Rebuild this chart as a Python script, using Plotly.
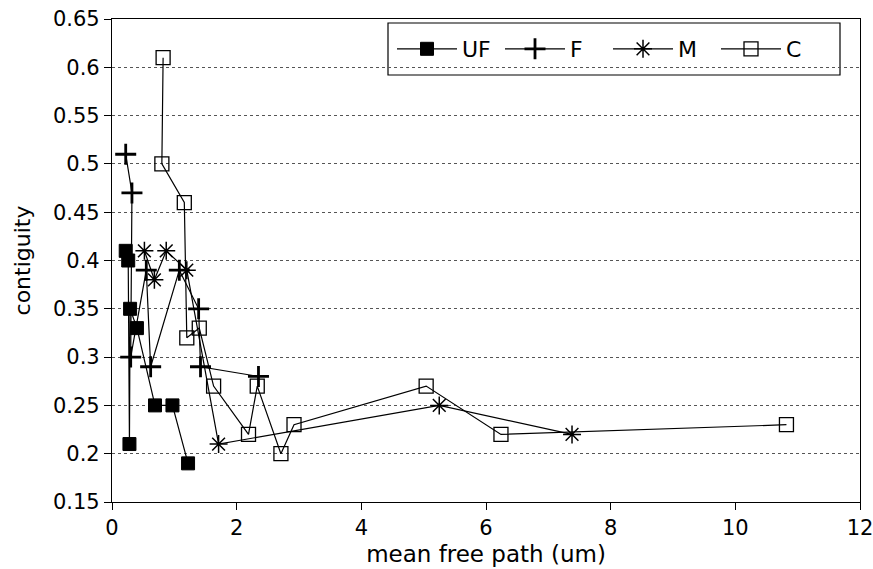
import plotly.graph_objects as go

# mean free path (um) and contiguity for each grade
uf_x = [0.22, 0.26, 0.28, 0.29, 0.40, 0.69, 0.97, 1.22]
uf_y = [0.41, 0.40, 0.21, 0.35, 0.33, 0.25, 0.25, 0.19]

f_x = [0.22, 0.32, 0.30, 0.55, 0.62, 1.08, 1.39, 1.42, 2.35]
f_y = [0.51, 0.47, 0.30, 0.39, 0.29, 0.39, 0.35, 0.29, 0.28]

m_x = [0.52, 0.68, 0.87, 1.20, 1.71, 5.25, 7.38]
m_y = [0.41, 0.38, 0.41, 0.39, 0.21, 0.25, 0.22]

c_x = [0.82, 0.80, 1.16, 1.20, 1.40, 1.63, 2.19, 2.33, 2.71, 2.92, 5.04, 6.24, 10.82]
c_y = [0.61, 0.50, 0.46, 0.32, 0.33, 0.27, 0.22, 0.27, 0.20, 0.23, 0.27, 0.22, 0.23]

x_ticks = [0, 2, 4, 6, 8, 10, 12]
y_ticks = [0.15, 0.2, 0.25, 0.3, 0.35, 0.4, 0.45, 0.5, 0.55, 0.6, 0.65]

FONT = "DejaVu Sans, Arial, sans-serif"
line = dict(color="black", width=1.2)

W, H = 873, 569
ML, MR, MT, MB = 112, 13, 19, 67
PW, PH = W - ML - MR, H - MT - MB


def px_x(p):
    return (p - ML) / PW


def px_y(p):
    return (H - MB - p) / PH


fig = go.Figure()
fig.add_trace(go.Scatter(
    x=uf_x, y=uf_y, name="UF", mode="lines+markers", line=line,
    marker=dict(symbol="square", size=13, color="black",
                line=dict(color="black", width=1))))
fig.add_trace(go.Scatter(
    x=f_x, y=f_y, name="F", mode="lines+markers", line=line,
    marker=dict(symbol="cross-thin", size=15, color="black",
                line=dict(color="black", width=2.8))))
fig.add_trace(go.Scatter(
    x=m_x, y=m_y, name="M", mode="lines+markers", line=line,
    marker=dict(symbol="asterisk", size=15, color="black",
                line=dict(color="black", width=1.5))))
fig.add_trace(go.Scatter(
    x=c_x, y=c_y, name="C", mode="lines+markers", line=line,
    marker=dict(symbol="square-open", size=14, color="black",
                line=dict(color="black", width=1.3))))

# legend frame: white box over the grid, outlined in black
fig.add_shape(type="rect", xref="paper", yref="paper",
              x0=px_x(388), x1=px_x(840), y0=px_y(75), y1=px_y(23),
              fillcolor="white", line=dict(color="black", width=1.2),
              layer="between")

fig.update_layout(
    width=W, height=H,
    margin=dict(l=ML, r=MR, t=MT, b=MB),
    paper_bgcolor="white", plot_bgcolor="white",
    font=dict(family=FONT, size=21, color="black"),
    showlegend=True,
    legend=dict(
        orientation="h", x=px_x(392), y=px_y(49), xanchor="left",
        yanchor="middle", borderwidth=0, bgcolor="rgba(0,0,0,0)",
        font=dict(size=22), itemwidth=60, entrywidth=33,
        tracegroupgap=0,
    ),
    xaxis=dict(
        range=[0, 12], tickvals=x_ticks, ticks="outside", ticklen=7,
        tickcolor="black", showline=True, linecolor="black", linewidth=1.2,
        mirror=True, showgrid=False, zeroline=False, automargin=False,
        ticklabeloverflow="allow",
        title=dict(text="mean free path (um)", standoff=6, font=dict(size=23)),
    ),
    yaxis=dict(
        range=[0.15, 0.65], tickvals=y_ticks, ticks="outside", ticklen=7,
        tickcolor="black", showline=True, linecolor="black", linewidth=1.2,
        mirror=True, showgrid=True, gridcolor="#555555", gridwidth=1,
        griddash="dot", zeroline=False, automargin=False,
        ticklabeloverflow="allow",
        title=dict(text="contiguity", standoff=16, font=dict(size=22)),
    ),
)

fig.write_html("out.html")
